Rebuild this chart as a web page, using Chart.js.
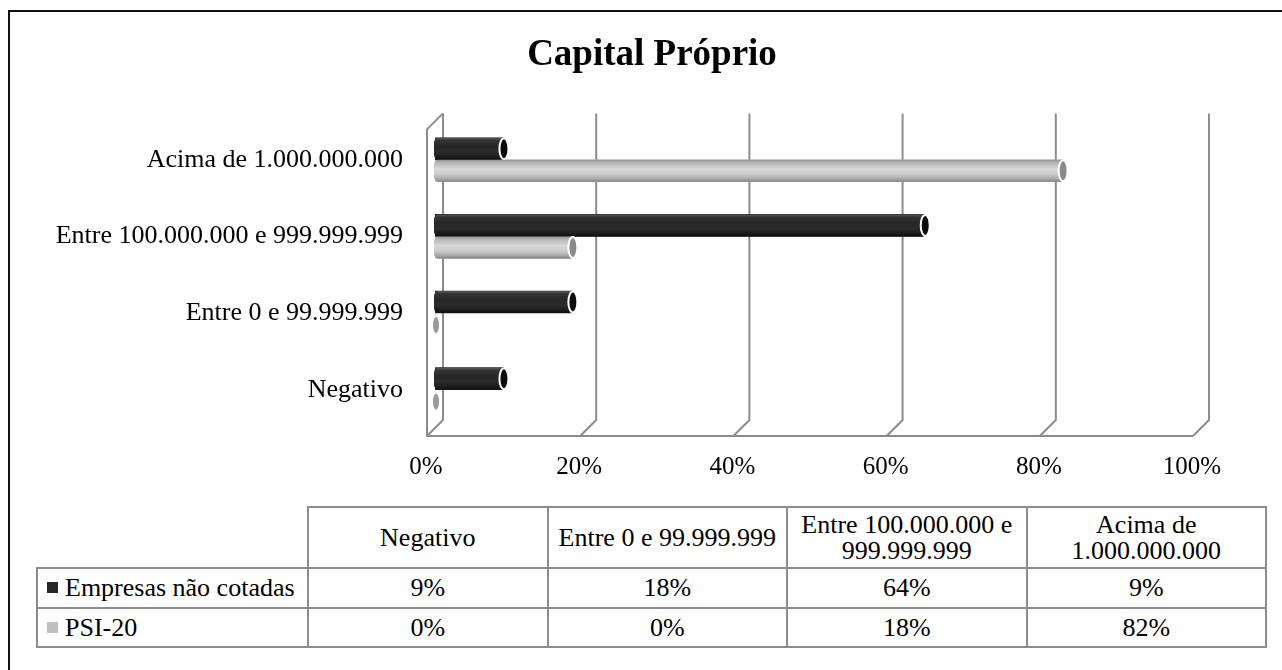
<!DOCTYPE html>
<html>
<head>
<meta charset="utf-8">
<title>Capital Próprio</title>
<script src="https://cdn.jsdelivr.net/npm/chart.js@4.4.1/dist/chart.umd.min.js"></script>
<style>
    html, body { margin: 0; padding: 0; width: 1282px; height: 670px; overflow: hidden; background: #fff; }
    body { font-family: 'Liberation Serif', 'Times New Roman', serif; color: #000; position: relative; }
    #frame { position: absolute; left: 8px; top: 10px; right: -30px; bottom: -30px;
             border-left: 2px solid #111; border-top: 2px solid #111; }
    #wrap { position: absolute; left: 22px; top: 0; width: 1260px; height: 500px; }
    #tbl { position: absolute; left: 36px; top: 506px; border-collapse: collapse;
           table-layout: fixed; font-size: 26px; line-height: 26px; }
    #tbl td { border: 2px solid #8c8c8c; text-align: center; padding: 0 2px; }
    #tbl td.blank { border-top: none; border-left: none; }
    #tbl td.name { text-align: left; padding-left: 9px; white-space: nowrap; }
    #tbl .key { display: inline-block; width: 11px; height: 11px; margin-right: 7px; vertical-align: 3px; }
</style>
</head>
<body>
<div id="frame"></div>
<div id="wrap"><canvas id="chart" width="1260" height="500"></canvas></div>
<table id="tbl"></table>

<script>
// categorias (ordem da tabela; o eixo é invertido no gráfico)
const categories = ['Negativo', 'Entre 0 e 99.999.999', 'Entre 100.000.000 e 999.999.999', 'Acima de 1.000.000.000'];
const seriesNames = ['Empresas não cotadas', 'PSI-20'];
const naoCotadas = [9, 18, 64, 9];
const psi20 = [0, 0, 18, 82];
const xTicks = [0, 20, 40, 60, 80, 100];

const SERIES_COLORS = ['#262626', '#bfbfbf'];
const GRID = '#8c8c8c';
const FONT = "'Liberation Serif', 'Times New Roman', serif";

// gradientes dos cilindros
const CYL = [
    { stops: [[0, '#5a5a5a'], [0.12, '#343434'], [0.4, '#262626'], [0.65, '#2c2c2c'], [0.88, '#1a1a1a'], [1, '#0e0e0e']], cap: '#0c0c0c' },
    { stops: [[0, '#8e8e8e'], [0.12, '#b4b4b4'], [0.42, '#d8d8d8'], [0.68, '#cacaca'], [0.9, '#a2a2a2'], [1, '#7e7e7e']], cap: '#8a8a8a' }
];

// paredes 3D: fundo, lado esquerdo e chão
const wallsPlugin = {
    id: 'walls3d',
    beforeDatasetsDraw(chart) {
        const { ctx, chartArea } = chart;
        const xs = chart.scales.x;
        const D = 8;
        const { left, top, bottom } = chartArea;
        ctx.save();
        ctx.strokeStyle = GRID;
        ctx.lineWidth = 2;
        xTicks.forEach(v => {
            const p = xs.getPixelForValue(v);
            ctx.beginPath();
            ctx.moveTo(p + D, top - D);
            ctx.lineTo(p + D, bottom - D);
            ctx.lineTo(p - D, bottom + D);
            ctx.stroke();
        });
        // parede esquerda e chão
        ctx.beginPath();
        ctx.moveTo(left + D, top - D);
        ctx.lineTo(left - D, top + D);
        ctx.lineTo(left - D, bottom + D);
        ctx.lineTo(xs.getPixelForValue(100) - D, bottom + D);
        ctx.stroke();
        ctx.restore();
    }
};

// cilindros desenhados a partir dos elementos de barra
const cylinderPlugin = {
    id: 'cylinders',
    afterDatasetsDraw(chart) {
        const ctx = chart.ctx;
        chart.data.datasets.forEach((ds, di) => {
            const meta = chart.getDatasetMeta(di);
            const look = CYL[di];
            meta.data.forEach(bar => {
                const { x, y, base, height } = bar.getProps(['x', 'y', 'base', 'height'], true);
                const h = height;
                const t = y - h / 2;
                ctx.save();
                if (x - base < 1) {
                    ctx.fillStyle = '#9a9a9a';
                    ctx.beginPath();
                    ctx.ellipse(base + 1, y + 1, 3, h * 0.36, 0, 0, Math.PI * 2);
                    ctx.fill();
                    ctx.restore();
                    return;
                }
                const g = ctx.createLinearGradient(0, t, 0, t + h);
                look.stops.forEach(s => g.addColorStop(s[0], s[1]));
                ctx.fillStyle = g;
                ctx.beginPath();
                ctx.roundRect(base - 1, t, x - base + 1, h, [5, 0, 0, 5]);
                ctx.fill();
                // tampa
                ctx.beginPath();
                ctx.ellipse(x, y, 4.5, h / 2 - 0.5, 0, 0, Math.PI * 2);
                ctx.fillStyle = look.cap;
                ctx.fill();
                ctx.strokeStyle = '#ffffff';
                ctx.lineWidth = 2;
                ctx.stroke();
                ctx.restore();
            });
        });
    }
};

Chart.defaults.font.family = FONT;
Chart.defaults.color = '#000';

new Chart(document.getElementById('chart'), {
    type: 'bar',
    data: {
        labels: categories,
        datasets: [
            { label: seriesNames[0], data: naoCotadas, backgroundColor: SERIES_COLORS[0], barThickness: 22 },
            { label: seriesNames[1], data: psi20, backgroundColor: SERIES_COLORS[1], barThickness: 22 }
        ]
    },
    options: {
        indexAxis: 'y',
        responsive: false,
        animation: false,
        layout: { padding: { left: 0, right: 0, top: 0, bottom: 22 } },
        plugins: {
            legend: { display: false },
            tooltip: { enabled: false },
            title: {
                display: true,
                text: 'Capital Próprio',
                font: { size: 37, weight: 'bold', family: FONT },
                color: '#000',
                padding: { top: 33, bottom: 44 }
            }
        },
        scales: {
            x: {
                min: 0,
                max: 100,
                afterBuildTicks: s => { s.ticks = xTicks.map(v => ({ value: v })); },
                afterFit: s => { s.height = 50; },
                grid: { display: false, drawTicks: false },
                border: { display: false },
                ticks: {
                    padding: 24,
                    labelOffset: -9,
                    maxRotation: 0,
                    font: { size: 25 },
                    callback: v => v + '%'
                }
            },
            y: {
                reverse: true,
                afterFit: s => { s.width = 413; },
                grid: { display: false, drawTicks: false },
                border: { display: false },
                ticks: { padding: 32, font: { size: 26 } }
            },
            // eixo vazio à direita só para reservar o espaço
            yR: {
                type: 'linear',
                position: 'right',
                afterFit: s => { s.width = 81; },
                grid: { display: false, drawTicks: false },
                border: { display: false },
                ticks: { display: false }
            }
        }
    },
    plugins: [wallsPlugin, cylinderPlugin]
});

// tabela de dados
function buildTable() {
    const tbl = document.getElementById('tbl');
    const cols = '<colgroup><col style="width:271px">' +
        categories.map(() => '<col style="width:239.5px">').join('') + '</colgroup>';
    const head = '<tr style="height:61px"><td class="blank"></td>' +
        categories.map(c => `<td>${c}</td>`).join('') + '</tr>';
    const rows = [naoCotadas, psi20].map((vals, i) =>
        `<tr style="height:${i === 0 ? 40 : 39}px"><td class="name"><span class="key" style="background:${SERIES_COLORS[i]}"></span>${seriesNames[i]}</td>` +
        vals.map(v => `<td>${v}%</td>`).join('') + '</tr>').join('');
    tbl.innerHTML = cols + head + rows;
}
buildTable();
</script>
</body>
</html>
